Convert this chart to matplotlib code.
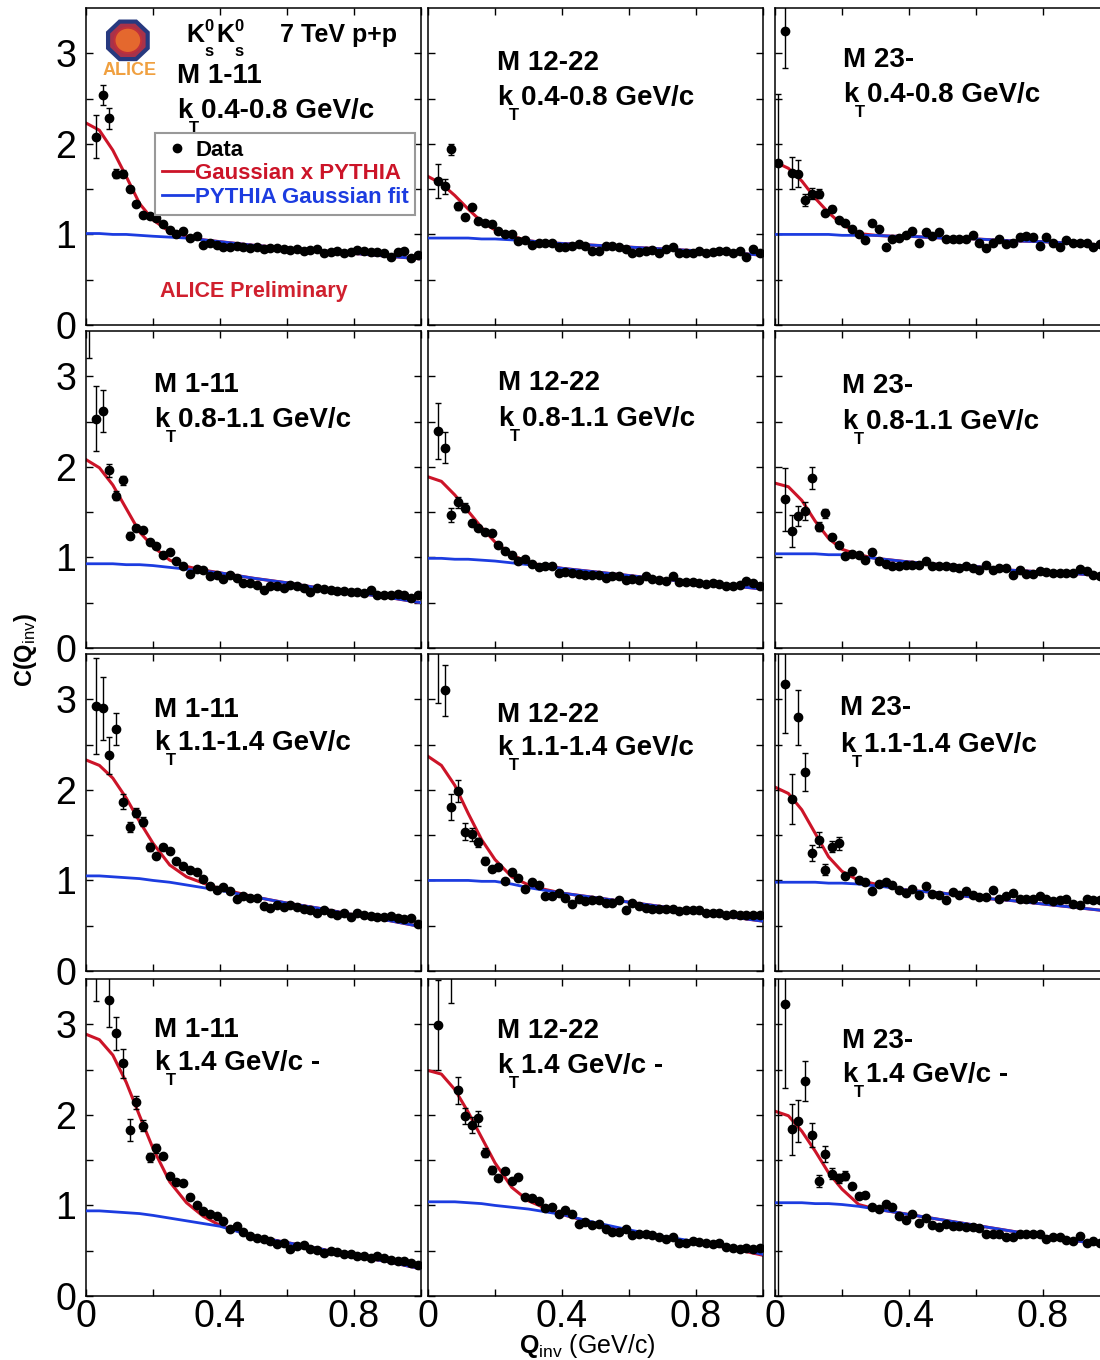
import numpy as np
import matplotlib
matplotlib.use('Agg')
import matplotlib.pyplot as plt
from matplotlib.patches import RegularPolygon, Circle
from matplotlib.lines import Line2D
from matplotlib.transforms import offset_copy

nan = float('nan')

# Q_inv bin centres (GeV/c)
q = [0.01, 0.03, 0.05, 0.07, 0.09, 0.11, 0.13, 0.15, 0.17, 0.19,
     0.21, 0.23, 0.25, 0.27, 0.29, 0.31, 0.33, 0.35, 0.37, 0.39,
     0.41, 0.43, 0.45, 0.47, 0.49, 0.51, 0.53, 0.55, 0.57, 0.59,
     0.61, 0.63, 0.65, 0.67, 0.69, 0.71, 0.73, 0.75, 0.77, 0.79,
     0.81, 0.83, 0.85, 0.87, 0.89, 0.91, 0.93, 0.95, 0.97, 0.99]

qc = [0.0, 0.04, 0.08, 0.12, 0.16, 0.20, 0.25, 0.30, 0.35, 0.40,
      0.50, 0.60, 0.70, 0.80, 0.90, 1.00]

mult_labels = ['M 1-11', 'M 12-22', 'M 23-']
kt_labels = ['0.4-0.8 GeV/c', '0.8-1.1 GeV/c', '1.1-1.4 GeV/c', '1.4 GeV/c -']

# ---- kT 0.4-0.8 ----
c_kt1_m1 = [nan, 2.08, 2.54, 2.28, 1.67, 1.67, 1.50, 1.34, 1.21, 1.20,
            1.18, 1.12, 1.05, 1.00, 1.04, 0.96, 0.98, 0.88, 0.90, 0.88,
            0.86, 0.86, 0.87, 0.86, 0.85, 0.86, 0.84, 0.85, 0.85, 0.84,
            0.83, 0.84, 0.82, 0.83, 0.84, 0.80, 0.81, 0.82, 0.80, 0.81,
            0.83, 0.82, 0.81, 0.81, 0.80, 0.75, 0.81, 0.82, 0.74, 0.77]
e_kt1_m1 = [0, 0.24, 0.11, 0.12, 0.05, 0.04, 0.03, 0.03]
red_kt1_m1 = [2.23, 2.15, 1.93, 1.64, 1.34, 1.16, 1.03, 0.98, 0.94, 0.92, 0.88, 0.85, 0.82, 0.79, 0.76, 0.73]
blue_kt1_m1 = [1.01, 1.01, 1.00, 1.00, 0.99, 0.98, 0.97, 0.96, 0.94, 0.92, 0.88, 0.85, 0.82, 0.79, 0.76, 0.73]

c_kt1_m2 = [nan, 1.59, 1.53, 1.94, 1.31, 1.19, 1.30, 1.15, 1.13, 1.11,
            1.04, 1.01, 1.00, 0.93, 0.94, 0.88, 0.90, 0.90, 0.90, 0.86,
            0.86, 0.87, 0.89, 0.87, 0.82, 0.82, 0.87, 0.87, 0.86, 0.84,
            0.80, 0.81, 0.82, 0.83, 0.80, 0.84, 0.86, 0.80, 0.80, 0.79,
            0.82, 0.79, 0.81, 0.82, 0.82, 0.80, 0.82, 0.75, 0.84, 0.79]
e_kt1_m2 = [0, 0.19, 0.08, 0.06, 0.04, 0.03, 0.03]
red_kt1_m2 = [1.64, 1.56, 1.43, 1.28, 1.14, 1.05, 0.98, 0.93, 0.91, 0.90, 0.88, 0.86, 0.84, 0.82, 0.80, 0.77]
blue_kt1_m2 = [0.96, 0.96, 0.96, 0.96, 0.95, 0.95, 0.94, 0.93, 0.91, 0.90, 0.88, 0.86, 0.84, 0.82, 0.80, 0.77]

c_kt1_m3 = [1.79, 3.25, 1.68, 1.67, 1.38, 1.45, 1.45, 1.24, 1.28, 1.16,
            1.13, 1.06, 1.00, 0.94, 1.13, 1.06, 0.86, 0.95, 0.96, 0.99,
            1.04, 0.90, 1.03, 0.98, 1.03, 0.95, 0.95, 0.95, 0.95, 0.99,
            0.90, 0.85, 0.90, 0.95, 0.89, 0.91, 0.97, 0.98, 0.97, 0.87,
            0.97, 0.90, 0.86, 0.94, 0.91, 0.90, 0.90, 0.86, 0.89, 0.88]
e_kt1_m3 = [(1.79, 0.76), 0.41, 0.18, 0.15, 0.07, 0.06, 0.05, 0.03, 0.03]
red_kt1_m3 = [1.80, 1.73, 1.59, 1.40, 1.24, 1.11, 1.01, 0.99, 0.98, 0.98, 0.96, 0.95, 0.93, 0.92, 0.90, 0.88]
blue_kt1_m3 = [1.00, 1.00, 1.00, 1.00, 1.00, 0.99, 0.99, 0.99, 0.98, 0.98, 0.96, 0.95, 0.93, 0.92, 0.90, 0.88]

# ---- kT 0.8-1.1 ----
c_kt2_m1 = [3.90, 2.53, 2.62, 1.96, 1.68, 1.85, 1.24, 1.33, 1.30, 1.17,
            1.13, 1.03, 1.06, 0.96, 0.90, 0.82, 0.87, 0.86, 0.80, 0.81,
            0.76, 0.81, 0.77, 0.72, 0.72, 0.70, 0.64, 0.69, 0.68, 0.66,
            0.70, 0.68, 0.66, 0.62, 0.66, 0.65, 0.64, 0.63, 0.63, 0.62,
            0.62, 0.61, 0.64, 0.58, 0.59, 0.59, 0.60, 0.58, 0.55, 0.59]
e_kt2_m1 = [0.70, 0.36, 0.23, 0.07, 0.05, 0.05, 0.04, 0.03]
red_kt2_m1 = [2.08, 1.99, 1.80, 1.54, 1.28, 1.12, 0.97, 0.90, 0.86, 0.83, 0.77, 0.72, 0.66, 0.61, 0.56, 0.50]
blue_kt2_m1 = [0.93, 0.93, 0.93, 0.92, 0.92, 0.91, 0.89, 0.87, 0.85, 0.83, 0.77, 0.72, 0.66, 0.61, 0.56, 0.50]

c_kt2_m2 = [nan, 2.40, 2.21, 1.47, 1.61, 1.55, 1.38, 1.33, 1.28, 1.27,
            1.14, 1.07, 1.03, 0.96, 0.98, 0.93, 0.89, 0.91, 0.90, 0.83,
            0.84, 0.83, 0.82, 0.81, 0.81, 0.81, 0.77, 0.79, 0.80, 0.75,
            0.76, 0.75, 0.79, 0.76, 0.75, 0.74, 0.79, 0.73, 0.73, 0.73,
            0.72, 0.71, 0.72, 0.71, 0.69, 0.69, 0.70, 0.74, 0.72, 0.68]
e_kt2_m2 = [0, 0.31, 0.17, 0.08, 0.06, 0.05, 0.03]
red_kt2_m2 = [1.89, 1.84, 1.69, 1.51, 1.33, 1.17, 1.03, 0.94, 0.91, 0.88, 0.84, 0.80, 0.76, 0.72, 0.69, 0.65]
blue_kt2_m2 = [0.99, 0.99, 0.98, 0.98, 0.97, 0.96, 0.94, 0.92, 0.90, 0.88, 0.84, 0.80, 0.76, 0.72, 0.69, 0.65]

c_kt2_m3 = [nan, 1.64, 1.29, 1.46, 1.51, 1.88, 1.34, 1.49, 1.23, 1.14,
            1.02, 1.04, 1.03, 0.97, 1.06, 0.96, 0.93, 0.91, 0.91, 0.92,
            0.92, 0.92, 0.96, 0.91, 0.90, 0.90, 0.89, 0.88, 0.90, 0.88,
            0.86, 0.92, 0.86, 0.88, 0.88, 0.81, 0.86, 0.82, 0.82, 0.85,
            0.84, 0.83, 0.83, 0.83, 0.83, 0.87, 0.85, 0.81, 0.80, 0.80]
e_kt2_m3 = [0, 0.35, 0.18, 0.11, 0.10, 0.12, 0.05, 0.05, 0.03]
red_kt2_m3 = [1.82, 1.78, 1.63, 1.40, 1.21, 1.09, 1.03, 0.99, 0.97, 0.95, 0.92, 0.90, 0.86, 0.84, 0.82, 0.79]
blue_kt2_m3 = [1.04, 1.04, 1.04, 1.04, 1.03, 1.03, 1.01, 0.99, 0.97, 0.95, 0.92, 0.90, 0.86, 0.84, 0.82, 0.79]

# ---- kT 1.1-1.4 ----
c_kt3_m1 = [nan, 2.93, 2.90, 2.38, 2.67, 1.87, 1.59, 1.75, 1.65, 1.37,
            1.27, 1.37, 1.33, 1.22, 1.16, 1.12, 1.09, 1.02, 0.94, 0.89,
            0.93, 0.88, 0.80, 0.83, 0.81, 0.81, 0.72, 0.70, 0.73, 0.71,
            0.73, 0.71, 0.69, 0.67, 0.64, 0.67, 0.64, 0.62, 0.64, 0.60,
            0.64, 0.62, 0.61, 0.60, 0.60, 0.61, 0.58, 0.57, 0.58, 0.52]
e_kt3_m1 = [0, 0.53, 0.35, 0.20, 0.18, 0.08, 0.06, 0.05, 0.05, 0.04]
red_kt3_m1 = [2.33, 2.27, 2.13, 1.91, 1.65, 1.41, 1.17, 1.04, 0.97, 0.91, 0.82, 0.75, 0.69, 0.62, 0.56, 0.49]
blue_kt3_m1 = [1.05, 1.05, 1.04, 1.03, 1.02, 1.00, 0.98, 0.95, 0.92, 0.89, 0.82, 0.75, 0.69, 0.62, 0.56, 0.49]

c_kt3_m2 = [nan, 3.95, 3.10, 1.81, 1.99, 1.54, 1.51, 1.42, 1.22, 1.13,
            1.15, 0.99, 1.09, 1.03, 0.90, 0.98, 0.95, 0.83, 0.83, 0.86,
            0.81, 0.74, 0.79, 0.77, 0.78, 0.78, 0.75, 0.75, 0.78, 0.67,
            0.75, 0.72, 0.70, 0.69, 0.69, 0.69, 0.68, 0.66, 0.67, 0.67,
            0.67, 0.64, 0.64, 0.64, 0.62, 0.63, 0.62, 0.62, 0.62, 0.62]
e_kt3_m2 = [0, 0.99, 0.28, 0.14, 0.12, 0.09, 0.07, 0.05, 0.04]
red_kt3_m2 = [2.37, 2.27, 2.05, 1.74, 1.45, 1.23, 1.04, 0.95, 0.90, 0.86, 0.81, 0.76, 0.71, 0.66, 0.60, 0.55]
blue_kt3_m2 = [1.00, 1.00, 1.00, 1.00, 0.99, 0.99, 0.96, 0.92, 0.89, 0.86, 0.81, 0.76, 0.71, 0.66, 0.60, 0.55]

c_kt3_m3 = [4.00, 3.17, 1.90, 2.80, 2.20, 1.30, 1.45, 1.12, 1.37, 1.41,
            1.05, 1.10, 1.00, 0.98, 0.88, 0.96, 0.98, 0.95, 0.89, 0.86,
            0.91, 0.84, 0.94, 0.85, 0.84, 0.78, 0.87, 0.84, 0.88, 0.84,
            0.82, 0.82, 0.89, 0.80, 0.83, 0.86, 0.80, 0.80, 0.80, 0.83,
            0.80, 0.77, 0.78, 0.80, 0.74, 0.73, 0.80, 0.78, 0.78, 0.77]
e_kt3_m3 = [4.1, 0.54, 0.28, 0.30, 0.21, 0.09, 0.08, 0.06, 0.06, 0.07]
red_kt3_m3 = [2.03, 1.96, 1.78, 1.52, 1.26, 1.10, 1.00, 0.96, 0.92, 0.89, 0.86, 0.81, 0.78, 0.74, 0.70, 0.66]
blue_kt3_m3 = [0.98, 0.98, 0.98, 0.98, 0.97, 0.97, 0.96, 0.94, 0.92, 0.89, 0.86, 0.81, 0.78, 0.74, 0.70, 0.66]

# ---- kT 1.4- ----
c_kt4_m1 = [nan, 3.90, nan, 3.27, 2.90, 2.57, 1.83, 2.14, 1.88, 1.53,
            1.63, 1.55, 1.32, 1.26, 1.25, 1.09, 1.00, 0.94, 0.91, 0.88,
            0.83, 0.74, 0.77, 0.71, 0.66, 0.64, 0.63, 0.61, 0.57, 0.58,
            0.52, 0.55, 0.56, 0.52, 0.51, 0.47, 0.50, 0.49, 0.46, 0.46,
            0.44, 0.44, 0.42, 0.44, 0.42, 0.40, 0.39, 0.39, 0.36, 0.34]
e_kt4_m1 = [0, 0.64, 0, 0.30, 0.18, 0.16, 0.12, 0.07, 0.06, 0.05, 0.05]
red_kt4_m1 = [2.89, 2.83, 2.66, 2.36, 1.99, 1.63, 1.26, 1.03, 0.88, 0.78, 0.66, 0.59, 0.52, 0.44, 0.38, 0.30]
blue_kt4_m1 = [0.94, 0.94, 0.93, 0.92, 0.91, 0.89, 0.86, 0.83, 0.80, 0.77, 0.66, 0.59, 0.52, 0.44, 0.38, 0.30]

c_kt4_m2 = [nan, 2.99, nan, 3.90, 2.27, 1.99, 1.89, 1.96, 1.58, 1.39,
            1.30, 1.38, 1.27, 1.31, 1.09, 1.08, 1.05, 0.97, 0.98, 0.91,
            0.95, 0.90, 0.80, 0.82, 0.78, 0.80, 0.74, 0.71, 0.71, 0.74,
            0.67, 0.69, 0.68, 0.67, 0.65, 0.63, 0.65, 0.59, 0.58, 0.61,
            0.60, 0.59, 0.57, 0.59, 0.54, 0.53, 0.52, 0.53, 0.52, 0.53]
e_kt4_m2 = [0, 0.50, 0, 0.66, 0.15, 0.09, 0.09, 0.08, 0.05, 0.04]
red_kt4_m2 = [2.49, 2.45, 2.28, 2.03, 1.75, 1.47, 1.20, 1.05, 0.97, 0.90, 0.80, 0.72, 0.65, 0.59, 0.53, 0.45]
blue_kt4_m2 = [1.04, 1.04, 1.04, 1.03, 1.02, 1.00, 0.98, 0.96, 0.93, 0.90, 0.81, 0.73, 0.66, 0.60, 0.54, 0.46]

c_kt4_m3 = [4.00, 3.22, 1.84, 1.93, 2.37, 1.78, 1.27, 1.57, 1.35, 1.30,
            1.33, 1.22, 1.10, 1.12, 0.98, 0.96, 1.02, 0.98, 0.88, 0.84,
            0.90, 0.81, 0.86, 0.78, 0.76, 0.80, 0.77, 0.77, 0.76, 0.76,
            0.75, 0.69, 0.69, 0.69, 0.65, 0.65, 0.69, 0.69, 0.68, 0.68,
            0.63, 0.65, 0.65, 0.62, 0.61, 0.66, 0.58, 0.61, 0.59, 0.58]
e_kt4_m3 = [4.1, 0.92, 0.28, 0.23, 0.22, 0.13, 0.07, 0.09, 0.06, 0.05, 0.05]
red_kt4_m3 = [2.04, 1.99, 1.82, 1.60, 1.36, 1.18, 1.01, 0.96, 0.93, 0.90, 0.84, 0.78, 0.72, 0.66, 0.61, 0.55]
blue_kt4_m3 = [1.03, 1.03, 1.03, 1.02, 1.02, 1.01, 0.99, 0.96, 0.93, 0.90, 0.84, 0.78, 0.72, 0.66, 0.61, 0.55]

data = [[c_kt1_m1, c_kt1_m2, c_kt1_m3], [c_kt2_m1, c_kt2_m2, c_kt2_m3],
        [c_kt3_m1, c_kt3_m2, c_kt3_m3], [c_kt4_m1, c_kt4_m2, c_kt4_m3]]
errs = [[e_kt1_m1, e_kt1_m2, e_kt1_m3], [e_kt2_m1, e_kt2_m2, e_kt2_m3],
        [e_kt3_m1, e_kt3_m2, e_kt3_m3], [e_kt4_m1, e_kt4_m2, e_kt4_m3]]
reds = [[red_kt1_m1, red_kt1_m2, red_kt1_m3], [red_kt2_m1, red_kt2_m2, red_kt2_m3],
        [red_kt3_m1, red_kt3_m2, red_kt3_m3], [red_kt4_m1, red_kt4_m2, red_kt4_m3]]
blues = [[blue_kt1_m1, blue_kt1_m2, blue_kt1_m3], [blue_kt2_m1, blue_kt2_m2, blue_kt2_m3],
         [blue_kt3_m1, blue_kt3_m2, blue_kt3_m3], [blue_kt4_m1, blue_kt4_m2, blue_kt4_m3]]

# label placement in each panel (x, baseline of M line, baseline of kT line)
label_pos = [[(0.271, 0.763, 0.653), (0.206, 0.804, 0.694), (0.202, 0.814, 0.703)],
             [(0.203, 0.808, 0.697), (0.209, 0.814, 0.700), (0.200, 0.804, 0.691)],
             [(0.203, 0.801, 0.697), (0.206, 0.785, 0.681), (0.194, 0.808, 0.691)],
             [(0.203, 0.817, 0.713), (0.206, 0.814, 0.703), (0.200, 0.782, 0.675)]]

RED = '#cc1428'
BLUE = '#1c3ce0'

plt.rcParams['font.family'] = ['Liberation Sans', 'DejaVu Sans']
plt.rcParams['mathtext.fontset'] = 'custom'
plt.rcParams['mathtext.rm'] = 'Liberation Sans'
plt.rcParams['mathtext.bf'] = 'Liberation Sans:bold'
plt.rcParams['mathtext.it'] = 'Liberation Sans:italic'
plt.rcParams['mathtext.sf'] = 'Liberation Sans'

W, H = 1100, 1360
fig = plt.figure(figsize=(11, 13.6), dpi=100)

col_left = [86, 428, 775]
row_bottom = [325, 648, 971, 1296]
pw, ph = 335, 317


def split_err(err):
    lo, hi = [], []
    for e in err:
        if isinstance(e, tuple):
            lo.append(e[0])
            hi.append(e[1])
        else:
            lo.append(e)
            hi.append(e)
    return [lo, hi]


def shifted(ax, dx, dy):
    # axes coords moved by a few pixels
    return offset_copy(ax.transAxes, fig=fig, x=dx, y=dy, units='dots')


axes = []
for r in range(4):
    for c in range(3):
        ax = fig.add_axes([col_left[c] / W, 1 - row_bottom[r] / H, pw / W, ph / H])
        axes.append(ax)

        ax.plot(qc, reds[r][c], color=RED, lw=2.2, zorder=2)
        ax.plot(qc, blues[r][c], color=BLUE, lw=2.0, zorder=3)

        err = errs[r][c]
        n = len(err)
        ax.errorbar(q[:n], data[r][c][:n], yerr=split_err(err), fmt='none',
                    ecolor='black', elinewidth=1.0, capsize=2.5, capthick=1.0, zorder=4)
        ax.plot(q, data[r][c], 'o', color='black', ms=6, zorder=5)

        ax.set_xlim(0, 1.0)
        ax.set_ylim(0, 3.5)
        ax.set_xticks([0, 0.2, 0.4, 0.6, 0.8, 1.0])
        ax.set_yticks([0, 0.5, 1, 1.5, 2, 2.5, 3])
        ax.set_xticklabels(['0', '', '0.4', '', '0.8', ''] if r == 3 else [])
        ax.set_yticklabels(['0', '', '1', '', '2', '', '3'] if c == 0 else [])
        ax.tick_params(direction='in', length=5, width=1, top=True, right=True,
                       labelsize=27)
        ax.tick_params(axis='x', pad=2)
        ax.tick_params(axis='y', pad=7)
        for s in ax.spines.values():
            s.set_linewidth(1.1)

        x0, ym, yk = label_pos[r][c]
        ax.text(x0, ym, mult_labels[c], transform=ax.transAxes, fontsize=20,
                fontweight='bold', va='baseline', ha='left')
        # k with a low-hanging T subscript, like the original
        ax.text(x0, yk, 'k', transform=ax.transAxes, fontsize=20,
                fontweight='bold', va='baseline', ha='left')
        ax.text(x0, yk, 'T', transform=shifted(ax, 12, -15), fontsize=12,
                fontweight='bold', va='baseline', ha='left')
        ax.text(x0, yk, kt_labels[r], transform=shifted(ax, 24, 0), fontsize=20,
                fontweight='bold', va='baseline', ha='left')

# first panel: title, legend, logo, preliminary
ax = axes[0]
for dx in (0, 30):
    ax.text(0.30, 0.893, 'K', transform=shifted(ax, dx, 0), fontsize=18,
            fontweight='bold', va='baseline', ha='left')
    ax.text(0.30, 0.893, '0', transform=shifted(ax, dx + 18, 11), fontsize=12,
            fontweight='bold', va='baseline', ha='left')
    ax.text(0.30, 0.893, 's', transform=shifted(ax, dx + 18, -14), fontsize=12,
            fontweight='bold', va='baseline', ha='left')
ax.text(0.30, 0.893, '7 TeV p+p', transform=shifted(ax, 93, 0), fontsize=18,
        fontweight='bold', va='baseline', ha='left')
ax.text(0.221, 0.088, 'ALICE Preliminary', transform=ax.transAxes, fontsize=15.5,
        fontweight='bold', color='#d0202e', va='baseline', ha='left')

handles = [Line2D([], [], marker='o', color='black', ls='none', ms=6),
           Line2D([], [], color=RED, lw=2),
           Line2D([], [], color=BLUE, lw=2)]
leg = ax.legend(handles, ['Data', 'Gaussian x PYTHIA', 'PYTHIA Gaussian fit'],
                loc='upper left', bbox_to_anchor=(0.206, 0.606), borderaxespad=0,
                prop={'weight': 'bold', 'size': 16}, handlelength=1.4, handletextpad=0.1,
                labelspacing=0.12, borderpad=0.3, fancybox=False, edgecolor='#999999',
                framealpha=1)
leg.get_frame().set_linewidth(1.5)
for t, col in zip(leg.get_texts(), ['black', RED, BLUE]):
    t.set_color(col)

# ALICE logo (rough)
ax.add_patch(RegularPolygon((0.125, 0.898), numVertices=8, radius=0.064, orientation=np.pi / 8,
                            transform=ax.transAxes, facecolor='#a8324a', edgecolor='#27397f',
                            lw=3, zorder=6))
ax.add_patch(Circle((0.125, 0.898), 0.040, transform=ax.transAxes, facecolor='#e4682e',
                    edgecolor='#c0303a', lw=1.5, zorder=7))
ax.text(0.13, 0.79, 'ALICE', transform=ax.transAxes, fontsize=13, fontweight='bold',
        color='#f0a040', ha='center', va='baseline', zorder=8)

fig.text(0.023, 0.522, r'C(Q$_{\mathrm{inv}}$)', rotation=90, fontsize=17,
         fontweight='bold', ha='center', va='center')
fig.text(0.472, 0.0055, r'$\mathbf{Q}_{\mathrm{inv}}$ (GeV/c)', fontsize=18,
         ha='left', va='baseline')

fig.savefig('out.png', dpi=100)
